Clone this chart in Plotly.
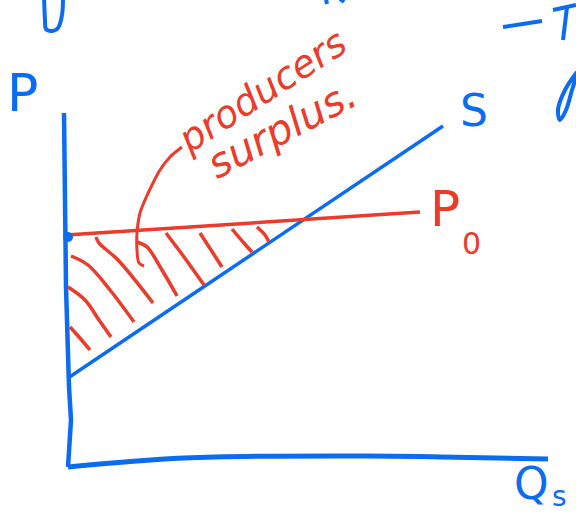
import plotly.graph_objects as go

BLUE = "#0b6cf2"
RED = "#ec3a2b"

# Sketch units: origin at the corner of the axes, 1 unit = 10 px
# Price axis (vertical, slightly wobbly hand-drawn stroke)
price_axis_q = [-0.4, -0.3, -0.2, 0.1, 0.3, 0.0]
price_axis_p = [35.2, 22.8, 17.8, 7.8, 4.5, -0.2]

# Quantity axis (horizontal)
qty_axis_q = [0.0, 11.6, 30.0, 37.3, 48.0]
qty_axis_p = [-0.2, 0.7, 0.9, 0.8, 0.6]

# Supply curve S
supply_q = [0.0, 37.5]
supply_p = [8.7, 33.9]

# Market price line P0
price_q = [-0.2, 35.2]
price_p = [23.0, 25.3]

# Point where P0 meets the price axis
p0_dot_q = [0.0]
p0_dot_p = [22.8]

# Hatching of the producer surplus area
hatch_q = [
    [0.2, 1.1, 2.2],
    [0.0, 1.7, 3.1, 4.3],
    [0.3, 2.0, 4.2, 6.6],
    [2.8, 3.1, 5.0, 8.5],
    [6.9, 7.9, 9.4, 10.9],
    [9.8, 11.6, 13.6],
    [13.2, 14.3, 15.4],
    [16.4, 17.5, 18.4],
    [18.9, 19.7, 20.1],
]
hatch_p = [
    [13.8, 12.8, 11.5],
    [17.8, 16.5, 14.5, 12.8],
    [20.9, 20.0, 17.5, 14.3],
    [22.8, 22.2, 20.5, 16.2],
    [22.3, 21.8, 19.5, 16.9],
    [23.2, 20.8, 18.0],
    [23.2, 21.5, 19.8],
    [23.6, 22.3, 21.3],
    [23.8, 23.0, 22.3],
]

# Curved pointer from the label down into the hatched area
pointer_q = [11.4, 10.2, 9.2, 8.4, 7.7, 7.2, 6.9, 6.9, 7.1, 7.6]
pointer_p = [31.8, 30.8, 29.5, 28.0, 26.5, 25.2, 23.2, 21.5, 20.2, 19.9]

# Stray pen strokes along the top edge of the page
stray_q = [
    [-2.4, -2.3, -2.2, -1.6, -1.0, -0.6, -0.5],
    [25.8, 25.9],
    [27.2, 27.6],
    [43.5, 47.4],
    [48.5, 50.8],
    [49.9, 49.5],
    [50.9, 49.7, 49.0, 49.2, 49.8, 50.4, 50.9],
]
stray_p = [
    [47.0, 44.5, 43.6, 43.4, 43.7, 45.0, 47.0],
    [46.6, 46.1],
    [46.6, 46.3],
    [43.8, 44.4],
    [45.5, 46.0],
    [45.8, 42.5],
    [39.3, 37.5, 35.5, 34.5, 35.5, 37.5, 39.0],
]

fig = go.Figure()


def stroke(q, p, color, width, shape="spline"):
    fig.add_trace(go.Scatter(
        x=q, y=p, mode="lines",
        line=dict(color=color, width=width, shape=shape),
        hoverinfo="skip", showlegend=False,
    ))


stroke(price_axis_q, price_axis_p, BLUE, 4.5, "linear")
stroke(qty_axis_q, qty_axis_p, BLUE, 5)
stroke(supply_q, supply_p, BLUE, 3.5, "linear")
stroke(price_q, price_p, RED, 3.5, "linear")
for hq, hp in zip(hatch_q, hatch_p):
    stroke(hq, hp, RED, 3.5)
stroke(pointer_q, pointer_p, RED, 3)
for sq, sp in zip(stray_q, stray_p):
    stroke(sq, sp, BLUE, 4)

fig.add_trace(go.Scatter(
    x=p0_dot_q, y=p0_dot_p, mode="markers",
    marker=dict(color=BLUE, size=10),
    hoverinfo="skip", showlegend=False,
))

hand = "DejaVu Sans"


def label(text, q, p, color, size, angle=0, xanchor="center", style="normal"):
    fig.add_annotation(
        x=q, y=p, text=text, showarrow=False, textangle=angle,
        xanchor=xanchor, yanchor="middle",
        font=dict(family=hand, size=size, color=color, style=style),
    )


label("P", -4.6, 37.2, BLUE, 52)
label("S", 40.6, 35.5, BLUE, 44)
label("P", 36.0, 25.6, RED, 50, xanchor="left")
label("0", 39.2, 22.2, RED, 30, xanchor="left")
label("Q", 44.4, -1.8, BLUE, 44, xanchor="left")
label("s", 48.2, -3.1, BLUE, 28, xanchor="left")
label("producers", 19.4, 37.4, RED, 38, angle=-33, style="italic")
label("surplus.", 21.4, 33.6, RED, 41, angle=-28, style="italic")

fig.update_layout(
    width=576, height=516, autosize=False,
    margin=dict(l=0, r=0, t=0, b=0),
    paper_bgcolor="white", plot_bgcolor="white",
    xaxis=dict(range=[-6.8, 50.8], visible=False, fixedrange=True),
    yaxis=dict(range=[-5.1, 46.5], visible=False, fixedrange=True),
)

fig.write_html("out.html")
